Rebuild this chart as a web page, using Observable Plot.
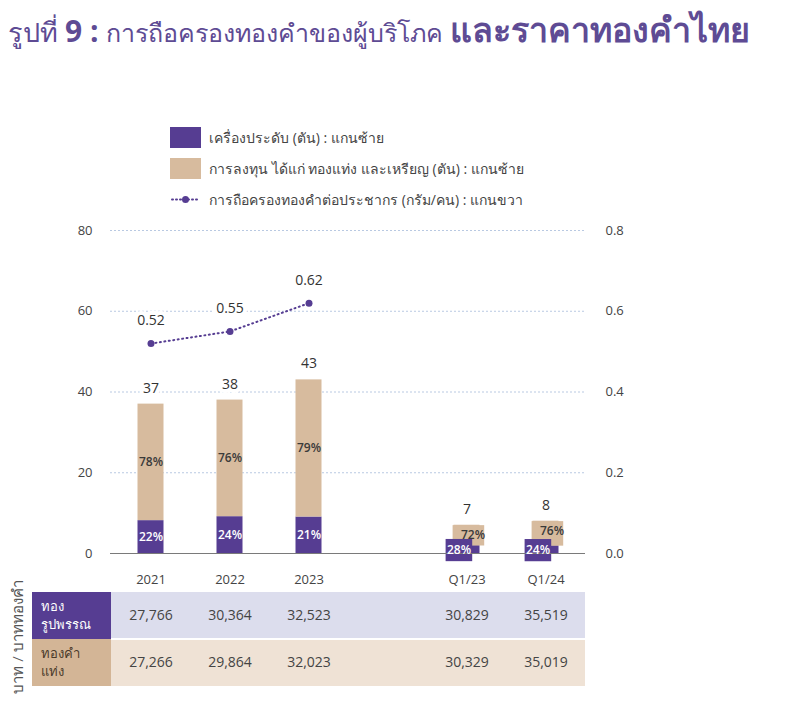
<!DOCTYPE html>
<html><head><meta charset="utf-8">
<script src="https://cdn.jsdelivr.net/npm/d3@7"></script>
<script src="https://cdn.jsdelivr.net/npm/@observablehq/plot@0.6"></script>
<style>
body{margin:0;background:#fff;font-family:"Open Sans","Noto Sans",sans-serif;}
#wrap{position:relative;width:792px;height:722px;overflow:hidden;}
#title{position:absolute;left:8px;top:3px;white-space:nowrap;color:#5e4b94;}
#title .r1{font-size:27px;}
#title .b1{font-size:30px;font-weight:700;}
#title .r2{font-size:25px;}
#title .b2{font-size:34px;font-weight:700;}
#legend{position:absolute;left:170px;top:122px;font-size:14px;color:#444;}
.li{display:flex;align-items:center;height:31px;}
.sw{width:31px;height:21px;margin-right:8px;}
#chart{position:absolute;left:0;top:200px;}
#table{position:absolute;left:0;top:590px;}
#unit{position:absolute;left:18px;top:637px;transform:translate(-50%,-50%) rotate(-90deg);white-space:nowrap;font-size:15px;color:#555;}
</style></head><body>
<div id="wrap">
  <div id="title"><span class="r1">รูปที่ </span><span class="b1">9 : </span><span class="r2">การถือครองทองคำของผู้บริโภค </span><span class="b2">และราคาทองคำไทย</span></div>
  <div id="legend"></div>
  <div id="chart"></div>
  <div id="table"></div>
  <div id="unit">บาท / บาททองคำ</div>
</div>
<script>
// ---- data ----
const periods = ["2021", "2022", "2023", "", "Q1/23", "Q1/24"];
const barPeriods = ["2021", "2022", "2023", "Q1/23", "Q1/24"];
const totals = [37, 38, 43, 7, 8];
const jewelryShare = [22, 24, 21, 28, 24];
const investShare = [78, 76, 79, 72, 76];
const linePeriods = ["2021", "2022", "2023"];
const perCapita = [0.52, 0.55, 0.62];
const leftTicks = [0, 20, 40, 60, 80];
const rightTicks = [0, 0.2, 0.4, 0.6, 0.8];
const rowNames = ["ทอง\nรูปพรรณ", "ทองคำ\nแท่ง"];
const tablePeriods = ["2021", "2022", "2023", "Q1/23", "Q1/24"];
const jewelryPrice = [27766, 30364, 32523, 30829, 35519];
const barPrice = [27266, 29864, 32023, 30329, 35019];
const legendLabels = ["เครื่องประดับ (ตัน) : แกนซ้าย", "การลงทุน ได้แก่ ทองแท่ง และเหรียญ (ตัน) : แกนซ้าย", "การถือครองทองคำต่อประชากร (กรัม/คน) : แกนขวา"];

// ---- styles ----
const PURPLE = "#563d92", TAN = "#d7bb9e", LAV = "#dcdded", BEIGE = "#efe2d5", HTAN = "#d3b596";
const FONT = "'Open Sans','Noto Sans',sans-serif";

// derived rows
const bars = barPeriods.map((p, i) => {
  const j = totals[i] * jewelryShare[i] / 100;
  return {period: p, total: totals[i], jewelry: j, invest: totals[i] - j, js: jewelryShare[i], is: investShare[i], q: p.startsWith("Q")};
});
const segs = bars.flatMap(d => [
  {period: d.period, type: "j", y1: 0, y2: d.jewelry, share: d.js, q: d.q},
  {period: d.period, type: "i", y1: d.jewelry, y2: d.total, share: d.is, q: d.q}
]);
const lineData = linePeriods.map((p, i) => ({period: p, v: perCapita[i]}));

// legend
const leg = document.getElementById("legend");
[PURPLE, TAN, null].forEach((c, i) => {
  const row = document.createElement("div");
  row.className = "li";
  if (c) {
    row.innerHTML = `<div class="sw" style="background:${c}"></div><span>${legendLabels[i]}</span>`;
  } else {
    row.innerHTML = `<svg width="31" height="21" style="margin-right:8px"><line x1="2" x2="29" y1="10.5" y2="10.5" stroke="${PURPLE}" stroke-width="2" stroke-dasharray="1,3" stroke-linecap="round"/><circle cx="15.5" cy="10.5" r="3.5" fill="${PURPLE}"/></svg><span>${legendLabels[i]}</span>`;
  }
  leg.appendChild(row);
});

// chart
const halo = {stroke: "white", strokeWidth: 8};
const chart = Plot.plot({
  width: 792, height: 395,
  marginTop: 30, marginBottom: 42, marginLeft: 110, marginRight: 207,
  x: {domain: periods, padding: 0, axis: null},
  y: {domain: [0, 80], axis: null},
  style: {fontFamily: FONT, fontSize: "13px", color: "#444", background: "transparent", overflow: "visible"},
  marks: [
    Plot.ruleY(leftTicks.filter(d => d > 0), {stroke: "#b9c9e2", strokeDasharray: "2,2"}),
    Plot.axisY({ticks: leftTicks, tickSize: 0, tickPadding: 18, label: null, fontSize: 13}),
    Plot.axisY({anchor: "right", ticks: rightTicks.map(d => d * 100), tickFormat: d => (d / 100).toFixed(1), tickSize: 0, tickPadding: 20, label: null, fontSize: 13}),
    Plot.axisX({tickSize: 0, tickPadding: 21, label: null, fontSize: 13}),
    Plot.barY(segs, {x: "period", y1: "y1", y2: "y2", fill: d => d.type === "j" ? PURPLE : TAN, insetLeft: 26.5, insetRight: 26.5}),
    // Q1 label boxes
    Plot.barY(segs.filter(d => d.q && d.type === "i"), {x: "period", y1: d => d.y1 - 0.1, y2: d => d.y2 - 0.1, fill: TAN, insetLeft: 25.6, insetRight: 21.8}),
    Plot.barY(segs.filter(d => d.q && d.type === "j"), {x: "period", y1: d => d.y2 / 2 - 3, y2: d => d.y2 / 2 + 2.5, fill: PURPLE, insetLeft: 18.6, insetRight: 33.8}),
    Plot.ruleY([0], {stroke: "#7a7a7a", strokeWidth: 1.2}),
    // percent labels
    Plot.text(segs.filter(d => !d.q), {x: "period", y: d => (d.y1 + d.y2) / 2, text: d => d.share + "%", fill: d => d.type === "j" ? "white" : "#3a3a3a", fontSize: 12, fontWeight: 600}),
    Plot.text(segs.filter(d => d.q && d.type === "j"), {x: "period", y: d => d.y2 / 2 - 0.25, text: d => d.share + "%", fill: "white", fontSize: 12, fontWeight: 600, dx: -8}),
    Plot.text(segs.filter(d => d.q && d.type === "i"), {x: "period", y: d => d.y2 - 2.5, text: d => d.share + "%", fill: "#3a3a3a", fontSize: 12, fontWeight: 600, dx: 6}),
    // totals
    Plot.text(bars, {x: "period", y: "total", text: d => String(d.total), dy: -16, fill: "#333", fontSize: 14, ...halo}),
    // per-capita line
    Plot.line(lineData, {x: "period", y: d => d.v * 100, stroke: PURPLE, strokeWidth: 2, strokeDasharray: "1,3.5", strokeLinecap: "round"}),
    Plot.dot(lineData, {x: "period", y: d => d.v * 100, fill: PURPLE, r: 3.5}),
    Plot.text(lineData, {x: "period", y: d => d.v * 100, text: d => d.v.toFixed(2), dy: -23, fill: "#333", fontSize: 14, ...halo})
  ]
});
document.getElementById("chart").appendChild(chart);

// table
const cols = ["h", ...periods];
const cellData = rowNames.flatMap((r, ri) => periods.map(p => {
  const k = tablePeriods.indexOf(p);
  return {row: r, ri, col: p, v: k < 0 ? null : (ri === 0 ? jewelryPrice[k] : barPrice[k])};
}));
const headLines = rowNames.flatMap((r, ri) => r.split("\n").map((t, li) => ({row: r, ri, li, t, col: "h"})));
const headText = (li) => Plot.text(headLines.filter(d => d.li === li), {
  x: "col", y: "row", text: "t", textAnchor: "start", dx: -31, dy: li === 0 ? -9 : 9,
  fill: d => d.ri === 0 ? "white" : "#4a3a2a", fontSize: 13
});
const table = Plot.plot({
  width: 792, height: 100,
  marginTop: 2, marginBottom: 4, marginLeft: 31.5, marginRight: 207,
  x: {domain: cols, padding: 0, axis: null},
  y: {domain: rowNames, padding: 0, axis: null},
  style: {fontFamily: FONT, fontSize: "14px", color: "#444", background: "transparent"},
  marks: [
    Plot.cell(cellData.filter(d => d.ri === 0), {x: "col", y: "row", fill: LAV, insetBottom: 1}),
    Plot.cell(cellData.filter(d => d.ri === 1), {x: "col", y: "row", fill: BEIGE, insetTop: 1}),
    Plot.cell(headLines.filter(d => d.li === 0), {x: "col", y: "row", fill: d => d.ri === 0 ? PURPLE : HTAN}),
    headText(0),
    headText(1),
    Plot.text(cellData.filter(d => d.v != null), {x: "col", y: "row", text: d => d3.format(",")(d.v), fill: "#444", fontSize: 14})
  ]
});
document.getElementById("table").appendChild(table);
</script>
</body></html>
